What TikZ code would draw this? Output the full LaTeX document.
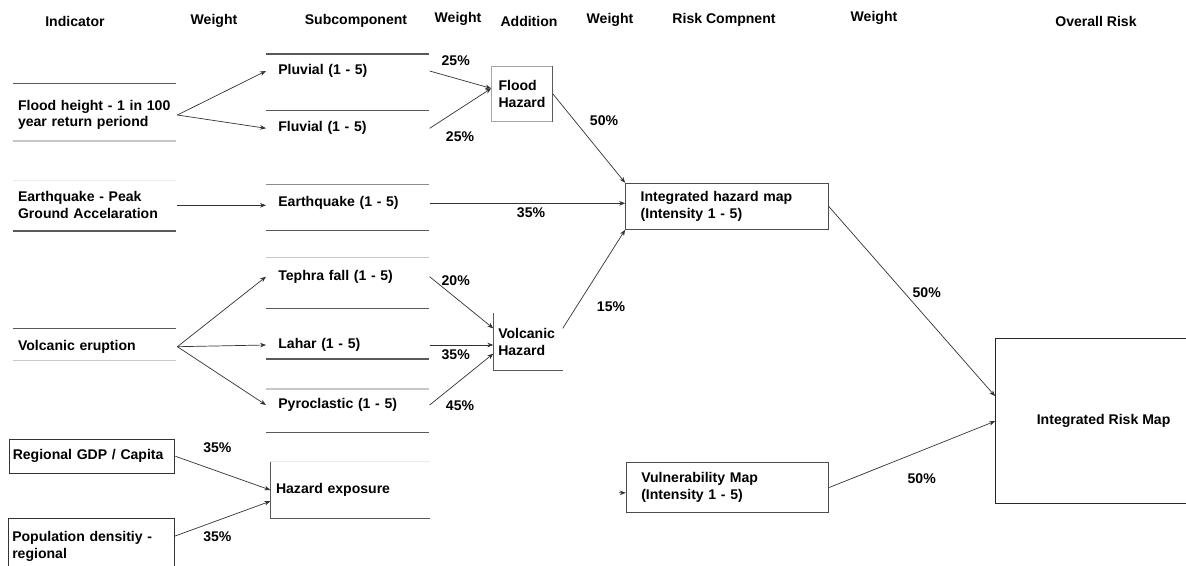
\documentclass[tikz,border=0pt]{standalone}
\usepackage{fontspec}
\setmainfont{Liberation Sans}
\usetikzlibrary{arrows.meta}

\begin{document}
\begin{tikzpicture}[x=0.02cm,y=-0.02cm,
  font=\bfseries\fontsize{8}{9.5}\selectfont,
  >={Stealth[length=3.4pt,width=2.6pt]},
  conn/.style={->,draw=black!80,line width=0.4pt},
  rule/.style={draw=black!65,line width=0.8pt},
  faint/.style={draw=black!22,line width=0.6pt},
  ind/.style={anchor=west,inner xsep=0.1cm,inner ysep=0pt,text width=3.08cm,align=left},
  sub/.style={anchor=west,inner xsep=0.24cm,inner ysep=0pt,text width=2.78cm,align=left},
  lbox/.style={draw=black!80,line width=0.6pt,inner xsep=0.074cm,text width=3.17cm,align=left},
  mapbox/.style={draw=black!70,line width=0.6pt,inner xsep=0.3cm,text width=3.45cm,align=left},
  hd/.style={inner sep=0pt},
  wt/.style={inner sep=0pt}]
\path[use as bounding box,fill=white] (0,0) rectangle (1186,565);
\clip (0,0) rectangle (1186,565);

% column heads
\node[hd] (hind) at (75,21) {Indicator};
\node[hd] (hw1) at (214,21) {Weight};
\node[hd] (hsub) at (356,21) {Subcomponent};
\node[hd] (hw2) at (458,19) {Weight};
\node[hd] (hadd) at (529,21) {Addition};
\node[hd] (hw3) at (610,20) {Weight};
\node[hd] (hrisk) at (724,20) {Risk Compnent};
\node[hd] (hw4) at (874,18) {Weight};
\node[hd] (hall) at (1096,21) {Overall Risk};

% indicators
\node[ind] (flood) at (12.7,115) {Flood height - 1 in 100\\year return periond};
\node[ind] (eqi) at (12.7,205.3) {Earthquake - Peak\\Ground Accelaration};
\node[ind] (ve) at (12.7,346.7) {Volcanic eruption};
\node[lbox,minimum height=0.68cm] (gdp) at (92,456.3) {Regional GDP / Capita};
\node[lbox,minimum height=1.12cm] (pop) at (91.5,546.3) {Population densitiy -\\regional};
\foreach \y in {83.3,231,328.3} {\draw[rule] (12.7,\y) -- (175.7,\y);}
\foreach \y in {141,360.7} {\draw[faint] (12.7,\y) -- (175.7,\y);}
\draw[draw=black!8] (12.7,180) -- (175.7,180);

% subcomponents
\node[sub] (pluv) at (266,71) {Pluvial (1 - 5)};
\node[sub] (flu) at (266,128.3) {Fluvial (1 - 5)};
\node[sub] (eqs) at (266,203.3) {Earthquake (1 - 5)};
\node[sub] (teph) at (266,276.7) {Tephra fall (1 - 5)};
\node[sub] (lah) at (266,345) {Lahar (1 - 5)};
\node[sub] (pyro) at (266,405) {Pyroclastic (1 - 5)};
\foreach \y in {54,110.7,230.7,308.3,359,432.3} {\draw[rule] (266,\y) -- (429,\y);}
\foreach \y in {257.3,389} {\draw[faint] (266,\y) -- (429,\y);}
\draw[rule,draw=black!45] (266,184.3) -- (429,184.3);

\node[inner xsep=0.106cm,text width=2.96cm,align=left,minimum height=1.13cm] (he) at (350,490) {Hazard exposure};
\draw[rule] (he.north west) -- (he.south west) -- (he.south east);
\draw[draw=black!8] (he.north west) -- (he.north east);

% addition
\node[draw=black!35,line width=0.6pt,minimum width=1.21cm,minimum height=1.09cm,align=left] (fh) at (522,93.8) {Flood\\Hazard};
\draw[rule] (fh.north east) -- (fh.south east);
\node[inner xsep=0.092cm,text width=1.19cm,align=left,minimum height=1.13cm] (vh) at (528,341.7) {Volcanic\\Hazard};
\draw[rule] (vh.north west) -- (vh.south west) -- (vh.south east);

% risk components
\node[mapbox,minimum height=0.92cm] (ihm) at (726.9,206.3) {Integrated hazard map\\(Intensity 1 - 5)};
\node[mapbox,minimum height=1.01cm] (vm) at (727.5,487.5) {Vulnerability Map\\(Intensity 1 - 5)};
\node[draw=black!85,line width=0.6pt,minimum width=4.32cm,minimum height=3.31cm] (irm) at (1103.6,421.2) {Integrated Risk Map};

% connectors
\draw[conn] (flood.east) -- (pluv.west);
\draw[conn] (flood.east) -- (flu.west);
\draw[conn] (eqi.east) -- (eqi.east -| eqs.west);
\foreach \s in {teph,lah,pyro} {\draw[conn] (ve.east) -- (\s.west);}
\draw[conn] (pluv.east) -- (fh.170);
\draw[conn] (flu.east) -- (fh.170);
\draw[conn] (teph.east) -- (vh.159);
\draw[conn] (lah.east) -- (lah.east -| vh.west);
\draw[conn] (pyro.east) -- (vh.199);
\draw[conn] (fh.east) -- (ihm.north west);
\draw[conn] (eqs.east) -- (eqs.east -| ihm.west);
\draw[conn] (vh.21) -- (ihm.south west);
\draw[conn] (gdp.east) -- (he.west);
\draw[conn] (pop.7) -- (he.188);
\draw[conn] (ihm.east) -- (irm.167.5);
\draw[conn] (vm.east) -- (irm.west);
\coordinate (vmtail) at (619,492.8);
\draw[conn] (vmtail) -- (vm.183);

% weights
\node[wt] (w1) at (455.7,60.7) {25\%};
\node[wt] (w2) at (460,136.7) {25\%};
\node[wt] (w3) at (604,120.7) {50\%};
\node[wt] (w4) at (531,212.3) {35\%};
\node[wt] (w5) at (455.7,280.7) {20\%};
\node[wt] (w6) at (455.7,355) {35\%};
\node[wt] (w7) at (460,405.7) {45\%};
\node[wt] (w8) at (611,306.7) {15\%};
\node[wt] (w9) at (926.7,292.3) {50\%};
\node[wt] (w10) at (921.7,478.3) {50\%};
\node[wt] (w11) at (217.4,447.7) {35\%};
\node[wt] (w12) at (217.4,536.7) {35\%};
\end{tikzpicture}
\end{document}
